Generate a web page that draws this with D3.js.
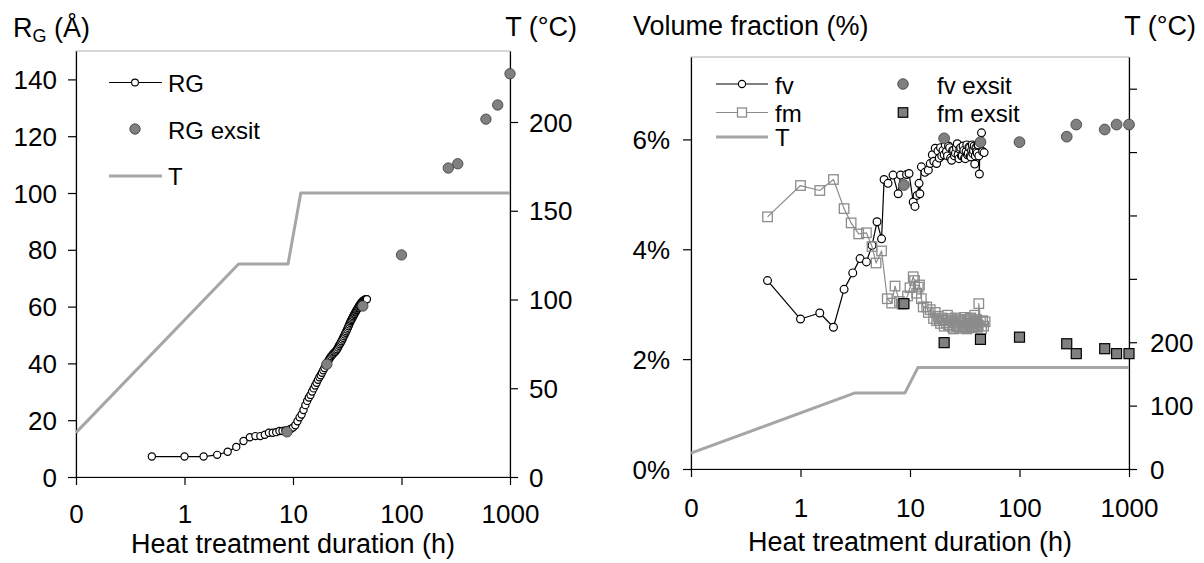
<!DOCTYPE html>
<html><head><meta charset="utf-8">
<script src="https://cdn.jsdelivr.net/npm/d3@7"></script>
<style>
body{margin:0;background:#fff;}
svg text{font-family:"Liberation Sans",Arial,sans-serif;fill:#000;}
</style></head>
<body>
<svg id="c" width="1204" height="563"></svg>
<script>
// ---------- data ----------
const xTickValues = [0.1, 1, 10, 100, 1000];
const xTickLabels = ["0", "1", "10", "100", "1000"];

// temperature profile (h, °C)
const tempHours = [0.1, 3.15, 9.0, 11.8, 1000];
const tempValues = [25, 120, 120, 160, 160];

// Left panel: RG (Å)
const rgHours = [0.5,1,1.5,2,2.5,3,3.5,4,4.5,5,5.5,6,6.5,7,7.5,8,8.5,9,9.5,
  10,10.5,11,11.5,12,12.5,13,13.5,14,14.5,15,15.5,16,16.5,17,17.5,18,18.5,19,19.5,
  20,20.5,21,21.5,22,22.5,23,23.5,24,24.5,25,25.5,26,26.5,27,27.5,28,28.5,29,29.5,
  30,30.5,31,31.5,32,32.5,33,33.5,34,34.5,35,35.5,36,36.5,37,37.5,38,38.5,39,39.5,
  40,40.5,41,41.5,42,42.5,43,43.5,44,44.5,45,45.5,46,46.5,47,47.5,48];
const rgValues = [7.2,7.2,7.2,7.8,8.9,10.6,12.7,14.0,14.4,14.4,14.9,15.6,15.6,15.8,16.2,16.2,16.4,16.6,16.9,
  17.4,18.2,19.6,21.0,22.0,23.6,25.3,26.8,28.0,28.9,30.1,31.2,32.2,33.2,34.2,35.1,35.8,36.7,37.6,38.4,
  39.3,40.1,40.8,41.4,42.0,42.5,43.0,43.4,43.8,44.1,44.5,45.0,45.6,46.2,46.7,47.3,47.8,48.4,49.0,49.6,
  50.2,50.8,51.3,51.9,52.5,53.1,53.7,54.3,54.8,55.3,55.7,56.2,56.6,57.1,57.5,57.9,58.3,58.7,59.0,59.4,
  59.7,60.1,60.4,60.7,61.0,61.3,61.5,61.7,61.9,62.1,62.2,62.3,62.4,62.5,62.5,62.6,62.6];

const exsitHours = [8.8, 20.5, 44, 100, 270, 330, 600, 770, 1000];
const rgExsit = [15.9, 39.7, 60.2, 78.2, 108.8, 110.3, 126, 131, 142];

// Right panel: volume fractions (%)
const fvHours = [0.5,1,1.5,2,2.5,3,3.5,4,4.5,5,5.5,5.8,6.3,7,7.8,8.2,9.3,9.8,
  10.7,11.1,11.6,12.1,12.3,12.7,13.7,14.7,15.3,16,16.5,17,17.5,18,18.5,19,19.5,
  20,20.5,21,21.5,22,22.5,23,23.5,24,24.5,25,25.5,26,26.5,27,27.5,28,28.5,29,29.5,
  30,30.5,31,31.5,32,32.5,33,33.5,34,34.5,35,35.5,36,36.5,37,37.5,38,38.5,39,39.5,
  40,40.5,41,41.5,42,42.5,43,43.5,45,46,47.5];
const fvValues = [3.43,2.73,2.84,2.58,3.27,3.57,3.83,3.77,4.07,4.5,4.19,5.27,5.2,5.35,5.01,5.35,5.36,5.38,
  4.86,4.78,4.98,5.2,5.01,5.5,5.4,5.44,5.56,5.72,5.6,5.84,5.56,5.79,5.66,5.85,5.7,
  5.8,5.72,5.9,5.78,5.7,5.88,5.85,5.66,5.62,5.8,5.8,5.7,5.75,5.85,5.92,5.72,5.65,5.82,5.85,5.7,
  5.7,5.88,5.8,5.66,5.65,5.78,5.9,5.72,5.75,5.86,5.85,5.7,5.68,5.8,5.9,5.74,5.8,5.88,5.55,5.7,
  5.85,5.78,5.75,5.9,5.9,5.7,5.37,5.95,6.12,5.78,5.76];

const fmHours = [0.5,1,1.5,2,2.5,2.9,3.4,4,4.5,4.9,5.5,6.2,6.8,7.3,8,8.5,9.5,10,10.7,11,11.5,11.9,12.2,12.7,
  13.2,14.2,14.7,15.3,16.4,17,17.5,18,18.5,19,19.5,20,20.5,21,21.5,22,22.5,23,23.5,24,24.5,25,25.5,26,26.5,27,27.5,
  28,28.5,29,29.5,30,30.5,31,31.5,32,32.5,33,33.5,34,34.5,35,35.5,36,36.5,37,37.5,38,38.5,39,39.5,
  40,40.5,41,41.5,42,42.5,44,45,46,47,48.5];
const fmValues = [4.59,5.16,5.07,5.27,4.74,4.48,4.28,4.3,4.05,3.75,3.97,3.1,3.02,3.33,3.05,3.0,3.15,3.3,3.5,3.43,3.2,3.31,3.35,3.1,
  2.95,2.95,2.85,2.9,2.74,2.85,2.7,2.78,2.7,2.65,2.75,2.72,2.6,2.71,2.66,2.8,2.62,2.62,2.74,2.7,2.58,2.55,2.68,2.75,2.6,2.6,2.72,
  2.68,2.56,2.58,2.7,2.65,2.62,2.6,2.76,2.72,2.58,2.55,2.66,2.7,2.6,2.6,2.74,2.75,2.57,2.58,2.68,2.65,2.6,2.8,2.66,
  2.6,2.72,2.7,2.58,2.62,3.01,2.68,2.55,2.7,2.6,2.68];

const fvExsit = [5.17, 6.02, 5.95, 5.95, 6.05, 6.27, 6.18, 6.27, 6.27];
const fmExsit = [3.01, 2.30, 2.36, 2.40, 2.28, 2.10, 2.19, 2.10, 2.10];

// ---------- drawing ----------
const svg = d3.select("#c");
const TICK_FONT = 26, TITLE_FONT = 27, LEG_FONT = 24;
const GRAY_T = "#a6a6a6", GRAY_FM = "#8c8c8c", EXSIT_FILL = "#808080";

function zip(a, b){ return a.map((v,i)=>[v, b[i]]); }

function panel(cfg){
  const g = svg.append("g");
  const x = d3.scaleLog().domain([0.1, 1000]).range([cfg.left, cfg.right]);
  const yL = d3.scaleLinear().domain(cfg.yLDomain).range([cfg.bottom, cfg.top]);
  const yR = d3.scaleLinear().domain(cfg.yRDomain).range([cfg.bottom, cfg.top]);
  g.append("rect").attr("x", cfg.left).attr("y", cfg.top)
    .attr("width", cfg.right-cfg.left).attr("height", cfg.bottom-cfg.top)
    .attr("fill", "none").attr("stroke", "#b0b0b0").attr("stroke-width", 1);
  const xAxis = d3.axisBottom(x).tickValues(xTickValues).tickFormat((d,i)=>xTickLabels[i]).tickSize(8).tickSizeOuter(0);
  const gx = g.append("g").attr("transform", `translate(0,${cfg.bottom})`).call(xAxis);
  gx.selectAll("text").attr("font-size", TICK_FONT).attr("dy", null).attr("y", cfg.xLabelDy);
  const yAxisL = d3.axisLeft(yL).tickValues(cfg.yLTicks).tickFormat(cfg.yLFormat).tickSize(8).tickSizeOuter(0);
  const gyl = g.append("g").attr("transform", `translate(${cfg.left},0)`).call(yAxisL);
  gyl.selectAll("text").attr("font-size", TICK_FONT).attr("x", -cfg.yLabelGap).attr("dy", "0.35em");
  const yAxisR = d3.axisRight(yR).tickValues(cfg.yRTicks).tickFormat(cfg.yRFormat).tickSize(8).tickSizeOuter(0);
  const gyr = g.append("g").attr("transform", `translate(${cfg.right},0)`).call(yAxisR);
  gyr.selectAll("text").attr("font-size", TICK_FONT).attr("x", cfg.yLabelGap).attr("dy", "0.35em");
  [gx, gyl, gyr].forEach(a => { a.selectAll("path,line").attr("stroke", "#000").attr("stroke-width", 1.2); a.attr("font-family", null); });
  g.append("text").attr("x", (cfg.left+cfg.right)/2).attr("y", cfg.xTitleY)
    .attr("text-anchor", "middle").attr("font-size", TITLE_FONT).text("Heat treatment duration (h)");
  g.append("text").attr("x", cfg.rTitleX).attr("y", cfg.topTitleY).attr("text-anchor", "end")
    .attr("font-size", TITLE_FONT).text("T (°C)");
  return {g, x, yL, yR};
}

function drawLine(g, pts, x, y, color, width){
  g.append("path").datum(pts)
    .attr("d", d3.line().x(d=>x(d[0])).y(d=>y(d[1])))
    .attr("fill", "none").attr("stroke", color).attr("stroke-width", width).attr("stroke-linejoin", "round");
}
function drawCircles(g, pts, x, y, r, fill, stroke, sw){
  g.append("g").selectAll("circle").data(pts).join("circle")
    .attr("cx", d=>x(d[0])).attr("cy", d=>y(d[1])).attr("r", r)
    .attr("fill", fill).attr("stroke", stroke).attr("stroke-width", sw);
}
function drawSquares(g, pts, x, y, s, fill, stroke, sw){
  g.append("g").selectAll("rect").data(pts).join("rect")
    .attr("x", d=>x(d[0])-s/2).attr("y", d=>y(d[1])-s/2).attr("width", s).attr("height", s)
    .attr("fill", fill).attr("stroke", stroke).attr("stroke-width", sw);
}

// ----- Left panel -----
const L = panel({left:76, right:510, top:51, bottom:477,
  yLDomain:[0,150], yRDomain:[0,240],
  yLTicks:d3.range(0,141,20), yRTicks:[0,50,100,150,200],
  yLFormat:d=>d, yRFormat:d=>d, yLabelGap:19, xLabelDy:46, xTitleY:553, rTitleX:577, topTitleY:36});
L.g.append("text").attr("x", 13).attr("y", 37).attr("font-size", TITLE_FONT)
  .call(t=>{ t.append("tspan").text("R");
             t.append("tspan").attr("font-size", 18).attr("dy", 5).text("G");
             t.append("tspan").attr("dy", -5).text(" (Å)"); });
drawLine(L.g, zip(tempHours, tempValues), L.x, L.yR, GRAY_T, 3);
const rgPts = zip(rgHours, rgValues);
drawLine(L.g, rgPts, L.x, L.yL, "#000", 1.2);
drawCircles(L.g, rgPts, L.x, L.yL, 3.6, "#fff", "#000", 1.2);
drawCircles(L.g, zip(exsitHours, rgExsit), L.x, L.yL, 5.2, EXSIT_FILL, "#3a3a3a", 0.8);
const lg = L.g.append("g");
lg.append("line").attr("x1",109).attr("x2",162).attr("y1",82.5).attr("y2",82.5).attr("stroke","#000").attr("stroke-width",1.2);
lg.append("circle").attr("cx",135).attr("cy",82.5).attr("r",3.4).attr("fill","#fff").attr("stroke","#000").attr("stroke-width",1.1);
lg.append("text").attr("x",168).attr("y",91.5).attr("font-size",LEG_FONT).text("RG");
lg.append("circle").attr("cx",135).attr("cy",129).attr("r",5.2).attr("fill",EXSIT_FILL).attr("stroke","#3a3a3a").attr("stroke-width",0.8);
lg.append("text").attr("x",168).attr("y",139).attr("font-size",LEG_FONT).text("RG exsit");
lg.append("line").attr("x1",109).attr("x2",162).attr("y1",176).attr("y2",176).attr("stroke",GRAY_T).attr("stroke-width",3);
lg.append("text").attr("x",168).attr("y",185).attr("font-size",LEG_FONT).text("T");

// ----- Right panel -----
const R = panel({left:691, right:1129, top:57, bottom:469,
  yLDomain:[0,7.5], yRDomain:[0,650],
  yLTicks:[0,2,4,6], yRTicks:[0,100,200,300,400,500,600],
  yLFormat:d=>d+"%", yRFormat:d=>(d<=200? d : ""), yLabelGap:21, xLabelDy:48, xTitleY:551, rTitleX:1196, topTitleY:35});
R.g.append("text").attr("x", 633).attr("y", 35).attr("font-size", TITLE_FONT).text("Volume fraction (%)");
drawLine(R.g, zip(tempHours, tempValues), R.x, R.yR, GRAY_T, 3);
const fvPts = zip(fvHours, fvValues), fmPts = zip(fmHours, fmValues);
drawLine(R.g, fvPts, R.x, R.yL, "#000", 1.2);
drawCircles(R.g, fvPts, R.x, R.yL, 3.9, "#fff", "#000", 1.2);
drawLine(R.g, fmPts, R.x, R.yL, GRAY_FM, 1.2);
drawSquares(R.g, fmPts, R.x, R.yL, 9.5, "none", GRAY_FM, 1.3);
drawCircles(R.g, zip(exsitHours, fvExsit), R.x, R.yL, 5.4, EXSIT_FILL, "#3a3a3a", 0.8);
drawSquares(R.g, zip(exsitHours, fmExsit), R.x, R.yL, 10, EXSIT_FILL, "#000", 1.2);
const rg = R.g.append("g");
rg.append("line").attr("x1",716).attr("x2",768).attr("y1",84).attr("y2",84).attr("stroke","#000").attr("stroke-width",1.2);
rg.append("circle").attr("cx",742).attr("cy",84).attr("r",3.6).attr("fill","#fff").attr("stroke","#000").attr("stroke-width",1.1);
rg.append("text").attr("x",775).attr("y",94).attr("font-size",LEG_FONT).text("fv");
rg.append("line").attr("x1",716).attr("x2",768).attr("y1",112.5).attr("y2",112.5).attr("stroke",GRAY_FM).attr("stroke-width",1.2);
rg.append("rect").attr("x",737.5).attr("y",108).attr("width",9).attr("height",9).attr("fill","#fff").attr("stroke",GRAY_FM).attr("stroke-width",1.3);
rg.append("text").attr("x",775).attr("y",121.5).attr("font-size",LEG_FONT).text("fm");
rg.append("line").attr("x1",716).attr("x2",768).attr("y1",137).attr("y2",137).attr("stroke",GRAY_T).attr("stroke-width",3);
rg.append("text").attr("x",775).attr("y",146).attr("font-size",LEG_FONT).text("T");
rg.append("circle").attr("cx",903).attr("cy",84).attr("r",5.3).attr("fill",EXSIT_FILL).attr("stroke","#3a3a3a").attr("stroke-width",0.8);
rg.append("text").attr("x",937).attr("y",94).attr("font-size",LEG_FONT).text("fv exsit");
rg.append("rect").attr("x",898.25).attr("y",107.75).attr("width",9.5).attr("height",9.5).attr("fill",EXSIT_FILL).attr("stroke","#000").attr("stroke-width",1.2);
rg.append("text").attr("x",937).attr("y",121.5).attr("font-size",LEG_FONT).text("fm exsit");
</script>
</body></html>
